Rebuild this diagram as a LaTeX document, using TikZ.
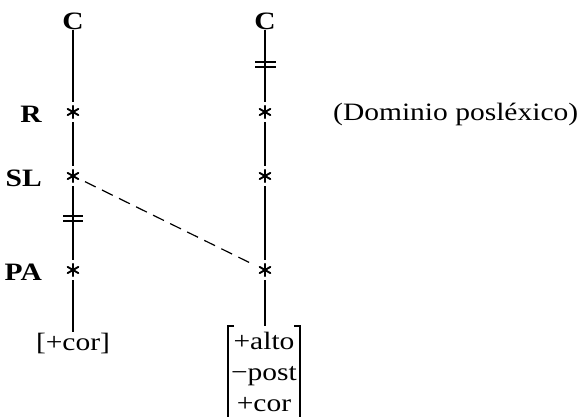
\documentclass[tikz,border=0pt]{standalone}
\usepackage{fontspec}
\setmainfont[FakeStretch=1.18]{Liberation Serif}
\begin{document}
\begin{tikzpicture}[x=1pt,y=-1pt,
  lbl/.style={font=\fontsize{25}{30}\selectfont\bfseries, inner sep=0pt},
  txt/.style={font=\fontsize{25}{31}\selectfont, inner sep=0pt},
  star/.style={circle, inner sep=0pt, minimum size=20pt,
    path picture={\foreach \a in {90,30,-30,-90,-150,150}
      \draw[line width=1.9pt, line cap=round] (path picture bounding box.center) -- ++(\a:6.2pt);}},
  ln/.style={line width=1.3pt},
  bar/.style={line width=1.3pt}]
\useasboundingbox (0,0) rectangle (584,417);
% top C labels
\node[lbl] (C1) at (73,21) {C};
\node[lbl] (C2) at (265,21) {C};
% row labels
\node[lbl, anchor=east] (R) at (42,114) {R};
\node[lbl, anchor=east] (SL) at (42,178) {SL};
\node[lbl, anchor=east] (PA) at (42,272) {PA};
% stars
\node[star] (s1) at (73,112) {};
\node[star] (s2) at (73,176) {};
\node[star] (s3) at (73,270) {};
\node[star] (t1) at (265,112) {};
\node[star] (t2) at (265,176) {};
\node[star] (t3) at (265,270) {};
% bottom
\node[txt] (F1) at (73,343) {[+cor]};
\node[txt, align=center] (F2) at (264,372) {+alto\\\textminus post\\+cor};
\node[txt, anchor=west] (D) at (333,114) {(Dominio posléxico)};
\coordinate (M) at (265,326);
% vertical lines
\draw[ln] (C1.south) -- (s1) -- (s2) -- (s3) -- (F1.north);
\draw[ln] (C2.south) -- (t1) -- (t2) -- (t3) -- (M);
% double bars
\draw[bar] (63,216) -- (83,216) (63,221) -- (83,221);
\draw[bar] (255,62) -- (276,62) (255,67) -- (276,67);
% matrix brackets
\draw[line width=1.3pt] (234,326) -- (228,326) -- (228,417);
\draw[line width=1.3pt] (294,326) -- (300,326) -- (300,417);
% dashed association
\draw[line width=1.2pt, dash pattern=on 12pt off 7pt, shorten <=3pt, shorten >=5pt] (s2.-25) -- (t3.155);
\end{tikzpicture}
\end{document}
